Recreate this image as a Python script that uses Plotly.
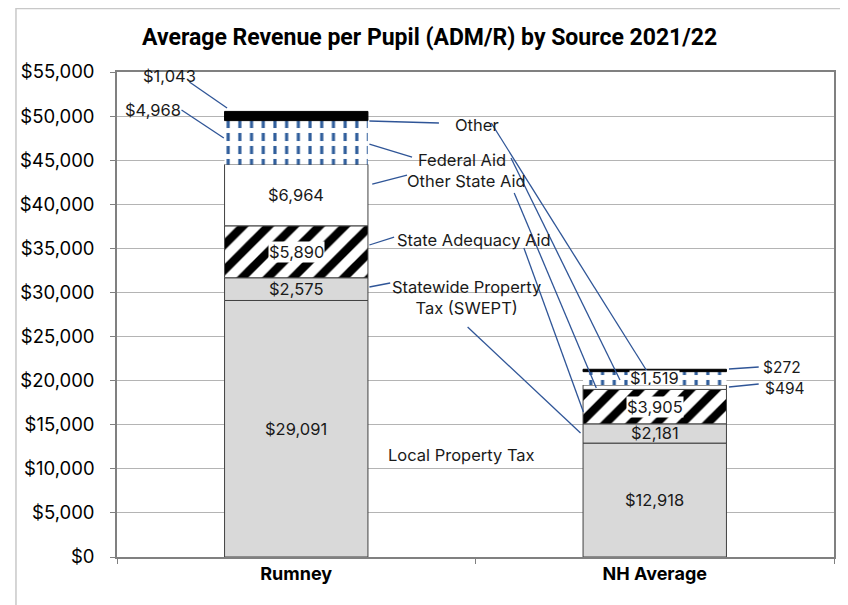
import plotly.graph_objects as go
import numpy as np

categories = ["Rumney", "NH Average"]
sources = ["Local Property Tax", "Statewide Property Tax (SWEPT)", "State Adequacy Aid",
           "Other State Aid", "Federal Aid", "Other"]
local_property_tax = [29091, 12918]
swept = [2575, 2181]
state_adequacy_aid = [5890, 3905]
other_state_aid = [6964, 494]
federal_aid = [4968, 1519]
other = [1043, 272]

series = [local_property_tax, swept, state_adequacy_aid, other_state_aid, federal_aid, other]
vals = np.array(series, dtype=float)
bases = np.vstack([np.zeros(2), np.cumsum(vals, axis=0)[:-1]])
mids = bases + vals / 2

BORDER = "#404040"
BLUE = "#2f5d9b"
LEAD = "#2f5597"
FONT = "Inter"

styles = [
    dict(color="#d9d9d9", line=dict(color=BORDER, width=1)),
    dict(color="#d9d9d9", line=dict(color=BORDER, width=1)),
    dict(color="white", line=dict(color=BORDER, width=1),
         pattern=dict(shape="/", fgcolor="black", bgcolor="white", size=18, solidity=0.46,
                      fgopacity=1)),
    dict(color="white", line=dict(color=BORDER, width=1)),
    dict(color="white", line=dict(width=0),
         pattern=dict(shape="|", fgcolor=BLUE, bgcolor="white", size=11.7, solidity=0.27,
                      fgopacity=1)),
    dict(color="black", line=dict(color="black", width=1)),
]

fig = go.Figure()
for name, v, b, st in zip(sources, vals, bases, styles):
    fig.add_trace(go.Bar(x=categories, y=v, base=b, name=name, marker=st, width=0.4,
                         opacity=1, hoverinfo="skip"))
# break federal vertical lines into dashes
fig.add_trace(go.Bar(x=categories, y=vals[4], base=bases[4], width=0.4, hoverinfo="skip",
                     opacity=1,
                     marker=dict(color="rgba(0,0,0,0)", line=dict(width=0),
                                 pattern=dict(shape="-", fgcolor="white", bgcolor="rgba(0,0,0,0)",
                                              size=13, solidity=0.38, fgopacity=1))))

ann = []
def money(v):
    return "${:,.0f}".format(v)

tf = dict(family=FONT, size=16.5, color="#1a1a1a")
# in-bar labels
inbar = {0: [0, 1, 2, 3], 1: [0, 1, 2, 4]}
white_bg = {2, 4}
for ci, idxs in inbar.items():
    for si in idxs:
        a = dict(x=ci, y=mids[si, ci], text=money(vals[si, ci]), showarrow=False,
                 font=tf, bgcolor="white" if si in white_bg else None, borderpad=0)
        if si == 4:
            a["height"] = 14
        ann.append(a)
# outside value labels
outside = [
    (0, 5, -0.354, 54545),
    (0, 4, -0.40, 50690),
    (1, 5, 1.354, 21500),
    (1, 3, 1.362, 19150),
]
for ci, si, lx, ly in outside:
    a = dict(x=lx, y=ly, text=money(vals[si, ci]), showarrow=False, font=tf)
    if ci == 1:
        a["font"] = dict(family=FONT, size=15.5, color="#1a1a1a")
        a["height"] = 14
    ann.append(a)

# category labels in the middle
mid_labels = [
    ("Other", 0.503, 48989),
    ("Federal Aid", 0.461, 45020),
    ("Other State Aid", 0.475, 42638),
    ("State Adequacy Aid", 0.497, 35948),
    ("Statewide Property<br>Tax (SWEPT)", 0.475, 29484),
    ("Local Property Tax", 0.461, 11567),
]
for t, lx, ly in mid_labels:
    ann.append(dict(x=lx, y=ly, text=t, showarrow=False, font=tf))

shapes = []
def seg(x0, y0, x1, y1):
    shapes.append(dict(type="line", x0=x0, y0=y0, x1=x1, y1=y1, xref="x", yref="y",
                       line=dict(color=LEAD, width=1.3)))

# leader lines: Rumney side
seg(0.204, 49442, 0.398, 49216)
seg(0.204, 46834, 0.323, 45360)
seg(0.212, 42298, 0.309, 43319)
seg(0.204, 35381, 0.273, 36288)
seg(0.204, 30618, 0.262, 31072)
# NH side
seg(0.544, 49216, 0.978, 21092)
seg(0.599, 45247, 0.903, 20072)
seg(0.608, 41278, 0.837, 19165)
seg(0.635, 35041, 0.801, 16443)
seg(0.478, 26082, 0.793, 14062)
# outside value leaders
seg(-0.298, 53865, -0.193, 50917)
seg(-0.320, 50690, -0.202, 47515)
seg(1.207, 21319, 1.290, 21546)
seg(1.207, 19278, 1.290, 19618)

# outer chart border
shapes.append(dict(type="rect", xref="paper", yref="paper", x0=-0.1409, x1=1.0097,
                   y0=-0.105, y1=1.131, line=dict(color="#c8c8c8", width=1.5),
                   fillcolor="rgba(0,0,0,0)", layer="below"))

fig.update_layout(
    width=840, height=597,
    margin=dict(l=104, r=12, t=64, b=48),
    paper_bgcolor="white", plot_bgcolor="white",
    barmode="overlay", showlegend=False,
    title=dict(text="<b>Average Revenue per Pupil (ADM/R) by Source 2021/22</b>",
               x=0.502, xref="container", xanchor="center",
               y=0.951, yref="container", yanchor="middle",
               font=dict(family="Roboto", size=23, color="black")),
    annotations=ann, shapes=shapes,
    font=dict(family=FONT, color="black"),
)
fig.update_xaxes(type="category", range=[-0.5, 1.5], tickson="boundaries", ticks="outside",
                 ticklen=5, tickcolor="#808080", showline=True, linecolor="#808080", linewidth=1.5,
                 mirror=True, showgrid=False,
                 tickfont=dict(family=FONT, size=18, color="black", weight="bold"))
fig.update_yaxes(range=[0, 55000], dtick=5000, tickprefix="$", tickformat=",",
                 ticks="outside", ticklen=5, tickcolor="#808080", showline=True,
                 linecolor="#808080", linewidth=1.5, mirror=True,
                 showgrid=True, gridcolor="#b4b4b4", gridwidth=1.3, zeroline=False,
                 ticklabelstandoff=12,
                 tickfont=dict(family=FONT, size=18.5, color="black"))

fig.write_html("out.html")
